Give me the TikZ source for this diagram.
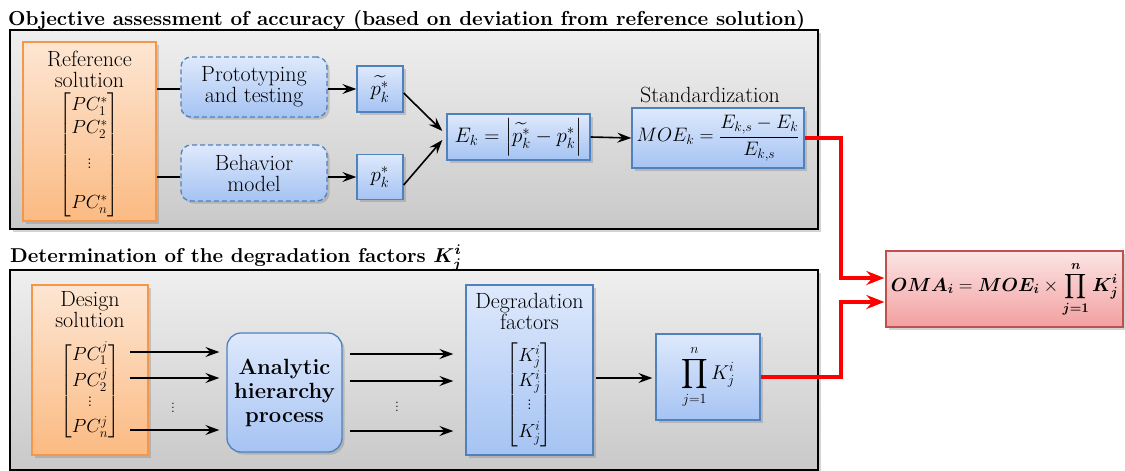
\RequirePackage{fix-cm}
\documentclass[tikz,border=0pt]{standalone}
\usepackage{amsmath}
\usepackage{graphicx}
\usetikzlibrary{arrows.meta,shadows,calc}
\definecolor{bblue}{HTML}{4F81BD}
\definecolor{btop}{HTML}{DEE9FC}
\definecolor{bbot}{HTML}{A5C3F3}
\definecolor{oborder}{HTML}{F79646}
\definecolor{otop}{HTML}{FDE6D3}
\definecolor{obot}{HTML}{FBBA82}
\definecolor{rborder}{HTML}{C0504D}
\definecolor{rtop}{HTML}{FCE4E4}
\definecolor{rbot}{HTML}{F2A0A0}
\definecolor{ptop}{HTML}{EFEFEF}
\definecolor{pbot}{HTML}{C9C9C9}
\definecolor{redline}{HTML}{FF0000}
\newcommand{\omatext}{$\boldsymbol{OMA_i} = \boldsymbol{MOE_i} \times \displaystyle\prod_{\boldsymbol{j=1}}^{\boldsymbol{n}} \boldsymbol{K_j^i}$}
\newcommand{\titletwo}{\bfseries Determination of the degradation factors $\boldsymbol{K_j^i}$}
\newcommand{\moetext}{$MOE_k = \dfrac{E_{k,s} - E_k}{E_{k,s}}$}
\newcommand{\ektext}{$E_k = \left\lvert\widetilde{p_k^*} - p_k^*\right\rvert$}
\newcommand{\prodtext}{$\displaystyle\prod_{j=1}^{n} K_j^i$}
\newcommand{\refmatrix}{$\begin{bmatrix} PC_1^*\\ PC_2^*\\[12pt] \vdots\\[17pt] PC_n^*\end{bmatrix}$}
\newcommand{\desmatrix}{$\begin{bmatrix} PC_1^j\\[2pt] PC_2^j\\[-3pt] \vdots\\[3pt] PC_n^j\end{bmatrix}$}
\newcommand{\degmatrix}{$\begin{bmatrix} K_j^i\\[2pt] K_j^i\\[0pt] \vdots\\[5pt] K_j^i\end{bmatrix}$}
\tikzset{
 txt/.style={font=\fontsize{22}{21}\selectfont, align=center, inner sep=0pt},
 mtxt/.style={font=\fontsize{19}{23}\selectfont, inner sep=0pt},
 shad/.style={drop shadow={opacity=0.35, shadow xshift=2.5pt, shadow yshift=-2.5pt}},
 bluebox/.style={draw=bblue, line width=1.3pt, top color=btop, bottom color=bbot, shad, inner sep=0pt},
 dashbox/.style={bluebox, dash pattern=on 5pt off 3pt, rounded corners=10pt},
 orangebox/.style={draw=oborder, line width=1.3pt, top color=otop, bottom color=obot, shad, inner sep=0pt},
 redbox/.style={draw=rborder, line width=1.3pt, top color=rtop, bottom color=rbot, shad, inner sep=0pt},
 panel/.style={draw=black, line width=1.6pt, top color=ptop, bottom color=pbot, shad, inner sep=0pt},
 arr/.style={-{Stealth[length=14pt,width=10pt,inset=5pt]}, line width=1.6pt},
 plainline/.style={line width=1.6pt},
 redarr/.style={draw=redline, line width=4pt, -{Stealth[length=18pt,width=14pt,inset=6pt]}},
}
\begin{document}
\begin{tikzpicture}[x=1pt,y=-1pt]
\useasboundingbox (0,0) rectangle (1125,471);
% titles
\node[anchor=west, inner sep=0pt] (t1) at (8,20) {\resizebox{797pt}{!}{\bfseries Objective assessment of accuracy (based on deviation from reference solution)}};
\node[anchor=west, inner sep=0pt] (t2) at (10,258) {\resizebox{452pt}{!}{\titletwo}};
% panels
\node[panel, minimum width=808pt, minimum height=199pt] (top) at (414,129.5) {};
\node[panel, minimum width=808pt, minimum height=200pt] (bot) at (414,370) {};
% top panel
\node[orangebox, minimum width=133pt, minimum height=179pt] (ref) at (89.5,131.5) {};
\node[txt] (reflab) at (89.5,69) {Reference\\solution};
\node[mtxt] (refmat) at (89.5,155) {\refmatrix};
\node[dashbox, minimum width=146pt, minimum height=60pt] (proto) at (254,87) {};
\node[txt] (protolab) at (254,87) {Prototyping\\and testing};
\node[dashbox, minimum width=146pt, minimum height=56pt] (beh) at (254,173) {};
\node[txt] (behlab) at (254,173) {Behavior\\model};
\node[bluebox, minimum width=46pt, minimum height=46pt] (pt) at (380,89) {};
\node[mtxt, font=\fontsize{21}{23}\selectfont] (ptlab) at (380,89) {$\widetilde{p_k^*}$};
\node[bluebox, minimum width=46pt, minimum height=45pt] (pp) at (380,177) {};
\node[mtxt, font=\fontsize{21}{23}\selectfont] (pplab) at (380,177) {$p_k^*$};
\node[bluebox, minimum width=143pt, minimum height=46pt] (ek) at (518.5,137) {};
\node[mtxt, font=\fontsize{21}{23}\selectfont] (eklab) at (518.5,137) {\ektext};
\node[txt] (stdlab) at (710,95) {Standardization};
\node[bluebox, minimum width=172pt, minimum height=60pt] (moe) at (718,138) {};
\node[mtxt, font=\fontsize{19.5}{23}\selectfont] (moelab) at (718,138) {\moetext};
\node[redbox, minimum width=237pt, minimum height=76pt] (oma) at (1004.5,289) {};
\node[mtxt] (omalab) at (1004.5,289) {\omatext};
% bottom panel
\node[orangebox, minimum width=116pt, minimum height=170pt] (des) at (90,370) {};
\node[txt] (deslab) at (90,310) {Design\\solution};
\node[mtxt] (desmat) at (90,391) {\desmatrix};
\node[bluebox, rounded corners=14pt, minimum width=115pt, minimum height=119pt] (ahp) at (284.5,392.5) {};
\node[txt, font=\fontsize{22}{24}\selectfont\bfseries] (ahplab) at (284.5,393) {Analytic\\hierarchy\\process};
\node[bluebox, minimum width=127pt, minimum height=170pt] (deg) at (529.5,370) {};
\node[txt] (deglab) at (529.5,311) {Degradation\\factors};
\node[mtxt] (degmat) at (529.5,395) {\degmatrix};
\node[bluebox, minimum width=104pt, minimum height=86pt] (prod) at (708,377) {};
\node[mtxt, font=\fontsize{20}{23}\selectfont] (prodlab) at (708,377) {\prodtext};
\node[mtxt, font=\fontsize{14}{16}\selectfont] (dots1) at (173,405) {$\vdots$};
\node[mtxt, font=\fontsize{14}{16}\selectfont] (dots2) at (397,404) {$\vdots$};
% coordinates
\coordinate (d1) at (130,352);
\coordinate (d2) at (130,378);
\coordinate (d3) at (130,430);
\coordinate (a1) at (350,354);
\coordinate (a2) at (350,381);
\coordinate (a3) at (350,431);
% connectors top
\draw[plainline] ($(proto.west -| ref.east)+(0,2)$) -- ($(proto.west)+(0,2)$);
\draw[plainline] ($(beh.west -| ref.east)+(0,4)$) -- ($(beh.west)+(0,4)$);
\draw[arr] ($(proto.east)+(0,2)$) -- (pt.west);
\draw[arr] ($(beh.east)+(0,4)$) -- (pp.west);
\draw[arr] ($(pt.east)+(0,4)$) -- ($(ek.west)+(-4,-6)$);
\draw[arr] ($(pp.east)+(0,8)$) -- ($(ek.west)+(-4,3)$);
\draw[arr] (ek.east) -- (moe.west);
% connectors bottom
\draw[arr] (d1) -- ($(d1 -| ahp.west)+(-7,0)$);
\draw[arr] (d2) -- ($(d2 -| ahp.west)+(-7,0)$);
\draw[arr] (d3) -- ($(d3 -| ahp.west)+(-7,0)$);
\draw[arr] (a1) -- ($(a1 -| deg.west)+(-12,0)$);
\draw[arr] (a2) -- ($(a2 -| deg.west)+(-12,0)$);
\draw[arr] (a3) -- ($(a3 -| deg.west)+(-12,0)$);
\draw[arr] ($(deg.east)+(2,8)$) -- ($(prod.west)+(-3,1)$);
% red
\draw[redarr] (moe.east) -- ++(36,0) |- ($(oma.west)+(-1,-11)$);
\draw[redarr] (prod.east) -- ++(80,0) |- ($(oma.west)+(-1,13)$);
\end{tikzpicture}
\end{document}
